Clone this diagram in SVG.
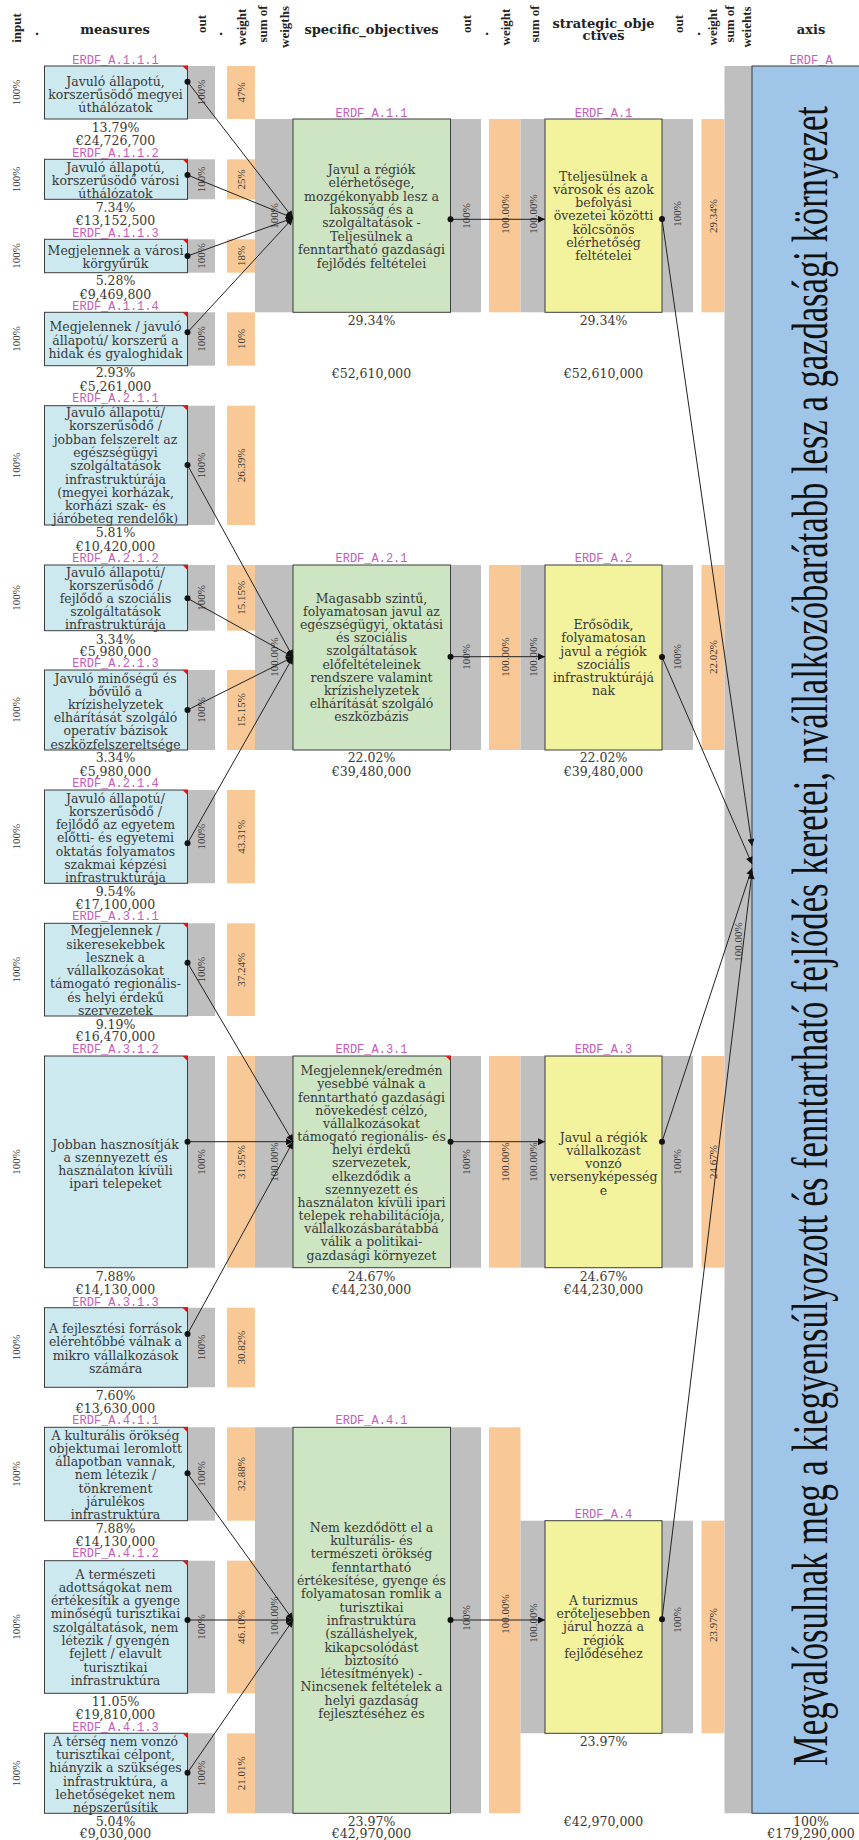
<svg xmlns="http://www.w3.org/2000/svg" width="859" height="1840" viewBox="0 0 859 1840">
<defs>
<style>
.bg{fill:#ffffff}
.m{fill:#cde9f0;stroke:#3c3c3c;stroke-width:1}
.sp{fill:#cde5c3;stroke:#3c3c3c;stroke-width:1}
.st{fill:#f3f29d;stroke:#3c3c3c;stroke-width:1}
.ax{fill:#9fc5e8;stroke:#3c3c3c;stroke-width:1}
.g{fill:#bfbfbf}
.o{fill:#f8c996}
.rc{fill:#e0181b}
text{font-family:"DejaVu Serif","Liberation Serif",serif;fill:#383838;text-anchor:middle;dominant-baseline:central}
.t{font-size:12.5px}
.id{font-family:"Liberation Mono","DejaVu Sans Mono",monospace;font-size:12px;fill:#c45cb8}
.r{font-family:"Liberation Serif","DejaVu Serif",serif;font-size:11px}
.h{font-size:13px;font-weight:bold;fill:#222}
.hr{font-family:"Liberation Serif","DejaVu Serif",serif;font-size:13px;font-weight:bold;fill:#222}
.big{font-family:"Liberation Serif","DejaVu Serif",serif;font-size:33px;fill:#111;dominant-baseline:alphabetic}
.c{stroke:#222;stroke-width:1;fill:none}
.dot{fill:#111}
</style>
<marker id="ah" viewBox="0 0 10 10" refX="10" refY="5" markerWidth="9" markerHeight="7" markerUnits="userSpaceOnUse" orient="auto"><path d="M0,0 L10,5 L0,10 z" fill="#111"/></marker>
</defs>
<rect class="bg" x="0" y="0" width="859" height="1840"/>

<g id="header">
<text class="hr" transform="translate(16,28) rotate(-90)">input</text>
<text class="h" x="37" y="30">.</text>
<text class="h" x="115" y="29">measures</text>
<text class="hr" transform="translate(201,24) rotate(-90)">out</text>
<text class="h" x="221" y="30">.</text>
<text class="hr" transform="translate(241,27) rotate(-90)">weight</text>
<text class="hr" transform="translate(262,24) rotate(-90)">sum of</text>
<text class="hr" transform="translate(284,27) rotate(-90)">weigths</text>
<text class="h" x="371.5" y="29">specific_objectives</text>
<text class="hr" transform="translate(466,24) rotate(-90)">out</text>
<text class="h" x="487" y="30">.</text>
<text class="hr" transform="translate(505,27) rotate(-90)">weight</text>
<text class="hr" transform="translate(534,24) rotate(-90)">sum of</text>
<text class="h" x="603.5" y="23">strategic_obje</text>
<text class="h" x="603.5" y="35">ctives</text>
<text class="hr" transform="translate(678,24) rotate(-90)">out</text>
<text class="h" x="699" y="30">.</text>
<text class="hr" transform="translate(712,27) rotate(-90)">weight</text>
<text class="hr" transform="translate(729,24) rotate(-90)">sum of</text>
<text class="hr" transform="translate(746,27) rotate(-90)">weiehts</text>
<text class="h" x="811" y="29">axis</text>
</g>

<g id="bars">
<rect class="g" x="187.5" y="66" width="27.5" height="53"/><rect class="o" x="227" y="66" width="28" height="53"/>
<rect class="g" x="187.5" y="159.3" width="27.5" height="40"/><rect class="o" x="227" y="159.3" width="28" height="40"/>
<rect class="g" x="187.5" y="239.3" width="27.5" height="33.4"/><rect class="o" x="227" y="239.3" width="28" height="33.4"/>
<rect class="g" x="187.5" y="312.3" width="27.5" height="53.4"/><rect class="o" x="227" y="312.3" width="28" height="53.4"/>
<rect class="g" x="187.5" y="405.7" width="27.5" height="119.3"/><rect class="o" x="227" y="405.7" width="28" height="119.3"/>
<rect class="g" x="187.5" y="565" width="27.5" height="65.7"/><rect class="o" x="227" y="565" width="28" height="65.7"/>
<rect class="g" x="187.5" y="670" width="27.5" height="80"/><rect class="o" x="227" y="670" width="28" height="80"/>
<rect class="g" x="187.5" y="790" width="27.5" height="93.3"/><rect class="o" x="227" y="790" width="28" height="93.3"/>
<rect class="g" x="187.5" y="923.3" width="27.5" height="92.7"/><rect class="o" x="227" y="923.3" width="28" height="92.7"/>
<rect class="g" x="187.5" y="1056" width="27.5" height="211.7"/><rect class="o" x="227" y="1056" width="28" height="211.7"/>
<rect class="g" x="187.5" y="1307.7" width="27.5" height="79.6"/><rect class="o" x="227" y="1307.7" width="28" height="79.6"/>
<rect class="g" x="187.5" y="1427.3" width="27.5" height="93.4"/><rect class="o" x="227" y="1427.3" width="28" height="93.4"/>
<rect class="g" x="187.5" y="1560.7" width="27.5" height="132.6"/><rect class="o" x="227" y="1560.7" width="28" height="132.6"/>
<rect class="g" x="187.5" y="1733.3" width="27.5" height="80"/><rect class="o" x="227" y="1733.3" width="28" height="80"/>
<rect class="g" x="255" y="119" width="38" height="193.3"/><rect class="g" x="450.5" y="119" width="30.5" height="193.3"/><rect class="o" x="489" y="119" width="31.5" height="193.3"/>
<rect class="g" x="255" y="565" width="38" height="185"/><rect class="g" x="450.5" y="565" width="30.5" height="185"/><rect class="o" x="489" y="565" width="31.5" height="185"/>
<rect class="g" x="255" y="1056" width="38" height="211.7"/><rect class="g" x="450.5" y="1056" width="30.5" height="211.7"/><rect class="o" x="489" y="1056" width="31.5" height="211.7"/>
<rect class="g" x="255" y="1427.3" width="38" height="386"/><rect class="g" x="450.5" y="1427.3" width="30.5" height="386"/><rect class="o" x="489" y="1427.3" width="31.5" height="386"/>
<rect class="g" x="520.5" y="119" width="24.5" height="193.3"/><rect class="g" x="662" y="119" width="31" height="193.3"/><rect class="o" x="701.5" y="119" width="23" height="193.3"/>
<rect class="g" x="520.5" y="565" width="24.5" height="185"/><rect class="g" x="662" y="565" width="31" height="185"/><rect class="o" x="701.5" y="565" width="23" height="185"/>
<rect class="g" x="520.5" y="1056" width="24.5" height="211.7"/><rect class="g" x="662" y="1056" width="31" height="211.7"/><rect class="o" x="701.5" y="1056" width="23" height="211.7"/>
<rect class="g" x="520.5" y="1520.7" width="24.5" height="212.6"/><rect class="g" x="662" y="1520.7" width="31" height="212.6"/><rect class="o" x="701.5" y="1520.7" width="23" height="212.6"/>
<rect class="g" x="724.5" y="66" width="27.5" height="1747.3"/>
</g>

<g id="bar-labels">
<text class="r" transform="translate(201,92.5) rotate(-90)">100%</text><text class="r" transform="translate(241,92.5) rotate(-90)">47%</text>
<text class="r" transform="translate(201,179.3) rotate(-90)">100%</text><text class="r" transform="translate(241,179.3) rotate(-90)">25%</text>
<text class="r" transform="translate(201,256) rotate(-90)">100%</text><text class="r" transform="translate(241,256) rotate(-90)">18%</text>
<text class="r" transform="translate(201,339) rotate(-90)">100%</text><text class="r" transform="translate(241,339) rotate(-90)">10%</text>
<text class="r" transform="translate(201,465.3) rotate(-90)">100%</text><text class="r" transform="translate(241,465.3) rotate(-90)">26.39%</text>
<text class="r" transform="translate(201,597.8) rotate(-90)">100%</text><text class="r" transform="translate(241,597.8) rotate(-90)">15.15%</text>
<text class="r" transform="translate(201,710) rotate(-90)">100%</text><text class="r" transform="translate(241,710) rotate(-90)">15.15%</text>
<text class="r" transform="translate(201,836.7) rotate(-90)">100%</text><text class="r" transform="translate(241,836.7) rotate(-90)">43.31%</text>
<text class="r" transform="translate(201,969.7) rotate(-90)">100%</text><text class="r" transform="translate(241,969.7) rotate(-90)">37.24%</text>
<text class="r" transform="translate(201,1162) rotate(-90)">100%</text><text class="r" transform="translate(241,1162) rotate(-90)">31.95%</text>
<text class="r" transform="translate(201,1347.5) rotate(-90)">100%</text><text class="r" transform="translate(241,1347.5) rotate(-90)">30.82%</text>
<text class="r" transform="translate(201,1474) rotate(-90)">100%</text><text class="r" transform="translate(241,1474) rotate(-90)">32.88%</text>
<text class="r" transform="translate(201,1627) rotate(-90)">100%</text><text class="r" transform="translate(241,1627) rotate(-90)">46.10%</text>
<text class="r" transform="translate(201,1773.3) rotate(-90)">100%</text><text class="r" transform="translate(241,1773.3) rotate(-90)">21.01%</text>
<text class="r" transform="translate(274,216) rotate(-90)">100%</text><text class="r" transform="translate(466,216) rotate(-90)">100%</text><text class="r" transform="translate(505,214) rotate(-90)">100.00%</text><text class="r" transform="translate(533,214) rotate(-90)">100.00%</text><text class="r" transform="translate(677,214) rotate(-90)">100%</text><text class="r" transform="translate(713,216) rotate(-90)">29.34%</text>
<text class="r" transform="translate(274,657) rotate(-90)">100.00%</text><text class="r" transform="translate(466,657) rotate(-90)">100%</text><text class="r" transform="translate(505,657) rotate(-90)">100.00%</text><text class="r" transform="translate(533,657) rotate(-90)">100.00%</text><text class="r" transform="translate(677,657) rotate(-90)">100%</text><text class="r" transform="translate(713,657) rotate(-90)">22.02%</text>
<text class="r" transform="translate(274,1162) rotate(-90)">100.00%</text><text class="r" transform="translate(466,1162) rotate(-90)">100%</text><text class="r" transform="translate(505,1162) rotate(-90)">100.00%</text><text class="r" transform="translate(533,1162) rotate(-90)">100.00%</text><text class="r" transform="translate(677,1162) rotate(-90)">100%</text><text class="r" transform="translate(713,1162) rotate(-90)">24.67%</text>
<text class="r" transform="translate(274,1616) rotate(-90)">100.00%</text><text class="r" transform="translate(466,1618) rotate(-90)">100%</text><text class="r" transform="translate(505,1614) rotate(-90)">100.00%</text><text class="r" transform="translate(533,1623) rotate(-90)">100.00%</text><text class="r" transform="translate(677,1620) rotate(-90)">100%</text><text class="r" transform="translate(713,1625) rotate(-90)">23.97%</text>
<text class="r" transform="translate(738,942) rotate(-90)">100.00%</text>
</g>

<g id="input-labels">
<text class="r" transform="translate(16,92.5) rotate(-90)">100%</text>
<text class="r" transform="translate(16,179.3) rotate(-90)">100%</text>
<text class="r" transform="translate(16,256) rotate(-90)">100%</text>
<text class="r" transform="translate(16,339) rotate(-90)">100%</text>
<text class="r" transform="translate(16,465.3) rotate(-90)">100%</text>
<text class="r" transform="translate(16,597.8) rotate(-90)">100%</text>
<text class="r" transform="translate(16,710) rotate(-90)">100%</text>
<text class="r" transform="translate(16,836.7) rotate(-90)">100%</text>
<text class="r" transform="translate(16,969.7) rotate(-90)">100%</text>
<text class="r" transform="translate(16,1162) rotate(-90)">100%</text>
<text class="r" transform="translate(16,1347.5) rotate(-90)">100%</text>
<text class="r" transform="translate(16,1474) rotate(-90)">100%</text>
<text class="r" transform="translate(16,1627) rotate(-90)">100%</text>
<text class="r" transform="translate(16,1773.3) rotate(-90)">100%</text>
</g>

<g id="m-A111">
<text class="id" x="115.5" y="61">ERDF_A.1.1.1</text>
<rect class="m" x="44.5" y="66" width="143" height="53"/><path class="rc" d="M182.5,66 H187.5 V71 z"/>
<text class="t" x="115.5" y="81">Javuló állapotú,</text>
<text class="t" x="115.5" y="94.3">korszerűsödő megyei</text>
<text class="t" x="115.5" y="107.6">úthálózatok</text>
<text class="t" x="115.5" y="127.7">13.79%</text>
<text class="t" x="115.5" y="140.5">€24,726,700</text>
</g>
<g id="m-A112">
<text class="id" x="115.5" y="154">ERDF_A.1.1.2</text>
<rect class="m" x="44.5" y="159.3" width="143" height="40"/><path class="rc" d="M182.5,159.3 H187.5 V164.3 z"/>
<text class="t" x="115.5" y="167">Javuló állapotú,</text>
<text class="t" x="115.5" y="180">korszerűsödő városi</text>
<text class="t" x="115.5" y="193">úthálózatok</text>
<text class="t" x="115.5" y="207.3">7.34%</text>
<text class="t" x="115.5" y="220.7">€13,152,500</text>
</g>
<g id="m-A113">
<text class="id" x="115.5" y="234">ERDF_A.1.1.3</text>
<rect class="m" x="44.5" y="239.3" width="143" height="33.4"/><path class="rc" d="M182.5,239.3 H187.5 V244.3 z"/>
<text class="t" x="115.5" y="250">Megjelennek a városi</text>
<text class="t" x="115.5" y="263.3">körgyűrűk</text>
<text class="t" x="115.5" y="280.3">5.28%</text>
<text class="t" x="115.5" y="294">€9,469,800</text>
</g>
<g id="m-A114">
<text class="id" x="115.5" y="306.7">ERDF_A.1.1.4</text>
<rect class="m" x="44.5" y="312.3" width="143" height="53.4"/><path class="rc" d="M182.5,312.3 H187.5 V317.3 z"/>
<text class="t" x="115.5" y="326.7">Megjelennek / javuló</text>
<text class="t" x="115.5" y="340">állapotú/ korszerű a</text>
<text class="t" x="115.5" y="353.3">hidak és gyaloghidak</text>
<text class="t" x="115.5" y="372.7">2.93%</text>
<text class="t" x="115.5" y="386.7">€5,261,000</text>
</g>
<g id="m-A211">
<text class="id" x="115.5" y="399.3">ERDF_A.2.1.1</text>
<rect class="m" x="44.5" y="405.7" width="143" height="119.3"/><path class="rc" d="M182.5,405.7 H187.5 V410.7 z"/>
<text class="t" x="115.5" y="412.5">Javuló állapotú/</text>
<text class="t" x="115.5" y="425.8">korszerűsödő /</text>
<text class="t" x="115.5" y="439.1">jobban felszerelt az</text>
<text class="t" x="115.5" y="452.4">egészségügyi</text>
<text class="t" x="115.5" y="465.7">szolgáltatások</text>
<text class="t" x="115.5" y="479">infrastruktúrája</text>
<text class="t" x="115.5" y="492.3">(megyei korházak,</text>
<text class="t" x="115.5" y="505.6">korházi szak- és</text>
<text class="t" x="115.5" y="518.9">járóbeteg rendelők)</text>
<text class="t" x="115.5" y="532.3">5.81%</text>
<text class="t" x="115.5" y="546.7">€10,420,000</text>
</g>
<g id="m-A212">
<text class="id" x="115.5" y="559">ERDF_A.2.1.2</text>
<rect class="m" x="44.5" y="565" width="143" height="65.7"/><path class="rc" d="M182.5,565 H187.5 V570 z"/>
<text class="t" x="115.5" y="572">Javuló állapotú/</text>
<text class="t" x="115.5" y="585">korszerűsödő /</text>
<text class="t" x="115.5" y="598.3">fejlődő a szociális</text>
<text class="t" x="115.5" y="611.3">szolgáltatások</text>
<text class="t" x="115.5" y="624.5">infrastruktúrája</text>
<text class="t" x="115.5" y="639.3">3.34%</text>
<text class="t" x="115.5" y="651.7">€5,980,000</text>
</g>
<g id="m-A213">
<text class="id" x="115.5" y="664">ERDF_A.2.1.3</text>
<rect class="m" x="44.5" y="670" width="143" height="80"/><path class="rc" d="M182.5,670 H187.5 V675 z"/>
<text class="t" x="115.5" y="678">Javuló minőségű és</text>
<text class="t" x="115.5" y="691.2">bővülő a</text>
<text class="t" x="115.5" y="704.4">krízishelyzetek</text>
<text class="t" x="115.5" y="717.6">elhárítását szolgáló</text>
<text class="t" x="115.5" y="730.8">operatív bázisok</text>
<text class="t" x="115.5" y="744">eszközfelszereltsége</text>
<text class="t" x="115.5" y="757.3">3.34%</text>
<text class="t" x="115.5" y="771.7">€5,980,000</text>
</g>
<g id="m-A214">
<text class="id" x="115.5" y="784">ERDF_A.2.1.4</text>
<rect class="m" x="44.5" y="790" width="143" height="93.3"/><path class="rc" d="M182.5,790 H187.5 V795 z"/>
<text class="t" x="115.5" y="798.3">Javuló állapotú/</text>
<text class="t" x="115.5" y="811.5">korszerűsödő /</text>
<text class="t" x="115.5" y="824.7">fejlődő az egyetem</text>
<text class="t" x="115.5" y="837.9">előtti- és egyetemi</text>
<text class="t" x="115.5" y="851.1">oktatás folyamatos</text>
<text class="t" x="115.5" y="864.3">szakmai képzési</text>
<text class="t" x="115.5" y="877.5">infrastruktúrája</text>
<text class="t" x="115.5" y="891.7">9.54%</text>
<text class="t" x="115.5" y="904">€17,100,000</text>
</g>
<g id="m-A311">
<text class="id" x="115.5" y="917.3">ERDF_A.3.1.1</text>
<rect class="m" x="44.5" y="923.3" width="143" height="92.7"/><path class="rc" d="M182.5,923.3 H187.5 V928.3 z"/>
<text class="t" x="115.5" y="930.7">Megjelennek /</text>
<text class="t" x="115.5" y="944">sikeresekebbek</text>
<text class="t" x="115.5" y="957.3">lesznek a</text>
<text class="t" x="115.5" y="970.6">vállalkozásokat</text>
<text class="t" x="115.5" y="983.9">támogató regionális-</text>
<text class="t" x="115.5" y="997.2">és helyi érdekű</text>
<text class="t" x="115.5" y="1010.5">szervezetek</text>
<text class="t" x="115.5" y="1024.3">9.19%</text>
<text class="t" x="115.5" y="1036.7">€16,470,000</text>
</g>
<g id="m-A312">
<text class="id" x="115.5" y="1050">ERDF_A.3.1.2</text>
<rect class="m" x="44.5" y="1056" width="143" height="211.7"/><path class="rc" d="M182.5,1056 H187.5 V1061 z"/>
<text class="t" x="115.5" y="1144">Jobban hasznosítják</text>
<text class="t" x="115.5" y="1157.3">a szennyezett és</text>
<text class="t" x="115.5" y="1170.6">használaton kívüli</text>
<text class="t" x="115.5" y="1183.9">ipari telepeket</text>
<text class="t" x="115.5" y="1276">7.88%</text>
<text class="t" x="115.5" y="1289">€14,130,000</text>
</g>
<g id="m-A313">
<text class="id" x="115.5" y="1302.7">ERDF_A.3.1.3</text>
<rect class="m" x="44.5" y="1307.7" width="143" height="79.6"/><path class="rc" d="M182.5,1307.7 H187.5 V1312.7 z"/>
<text class="t" x="115.5" y="1328.5">A fejlesztési források</text>
<text class="t" x="115.5" y="1341.8">elérehtőbbé válnak a</text>
<text class="t" x="115.5" y="1355.1">mikro vállalkozások</text>
<text class="t" x="115.5" y="1368.4">számára</text>
<text class="t" x="115.5" y="1395">7.60%</text>
<text class="t" x="115.5" y="1408.3">€13,630,000</text>
</g>
<g id="m-A411">
<text class="id" x="115.5" y="1421">ERDF_A.4.1.1</text>
<rect class="m" x="44.5" y="1427.3" width="143" height="93.4"/><path class="rc" d="M182.5,1427.3 H187.5 V1432.3 z"/>
<text class="t" x="115.5" y="1435">A kulturális örökség</text>
<text class="t" x="115.5" y="1448.3">objektumai leromlott</text>
<text class="t" x="115.5" y="1461.6">állapotban vannak,</text>
<text class="t" x="115.5" y="1474.9">nem létezik /</text>
<text class="t" x="115.5" y="1488.2">tönkrement</text>
<text class="t" x="115.5" y="1501.5">járulékos</text>
<text class="t" x="115.5" y="1514.8">infrastruktúra</text>
<text class="t" x="115.5" y="1528.3">7.88%</text>
<text class="t" x="115.5" y="1541.7">€14,130,000</text>
</g>
<g id="m-A412">
<text class="id" x="115.5" y="1554">ERDF_A.4.1.2</text>
<rect class="m" x="44.5" y="1560.7" width="143" height="132.6"/><path class="rc" d="M182.5,1560.7 H187.5 V1565.7 z"/>
<text class="t" x="115.5" y="1574">A természeti</text>
<text class="t" x="115.5" y="1587.3">adottságokat nem</text>
<text class="t" x="115.5" y="1600.6">értékesítik a gyenge</text>
<text class="t" x="115.5" y="1613.9">minőségű turisztikai</text>
<text class="t" x="115.5" y="1627.2">szolgáltatások, nem</text>
<text class="t" x="115.5" y="1640.5">létezik / gyengén</text>
<text class="t" x="115.5" y="1653.8">fejlett / elavult</text>
<text class="t" x="115.5" y="1667.1">turisztikai</text>
<text class="t" x="115.5" y="1680.4">infrastruktúra</text>
<text class="t" x="115.5" y="1701.7">11.05%</text>
<text class="t" x="115.5" y="1714">€19,810,000</text>
</g>
<g id="m-A413">
<text class="id" x="115.5" y="1728.3">ERDF_A.4.1.3</text>
<rect class="m" x="44.5" y="1733.3" width="143" height="80"/><path class="rc" d="M182.5,1733.3 H187.5 V1738.3 z"/>
<text class="t" x="115.5" y="1741.5">A térség nem vonzó</text>
<text class="t" x="115.5" y="1754.7">turisztikai célpont,</text>
<text class="t" x="115.5" y="1767.9">hiányzik a szükséges</text>
<text class="t" x="115.5" y="1781.1">infrastruktúra, a</text>
<text class="t" x="115.5" y="1794.3">lehetőségeket nem</text>
<text class="t" x="115.5" y="1807.5">népszerűsítik</text>
<text class="t" x="115.5" y="1821">5.04%</text>
<text class="t" x="115.5" y="1833.3">€9,030,000</text>
</g>

<g id="so-A11">
<text class="id" x="371.5" y="114">ERDF_A.1.1</text>
<rect class="sp" x="293" y="119" width="157.5" height="193.3"/>
<text class="t" x="371.5" y="169.5">Javul a régiók</text>
<text class="t" x="371.5" y="182.8">elérhetősége,</text>
<text class="t" x="371.5" y="196.1">mozgékonyabb lesz a</text>
<text class="t" x="371.5" y="209.4">lakosság és a</text>
<text class="t" x="371.5" y="222.7">szolgáltatások -</text>
<text class="t" x="371.5" y="236.5">Teljesülnek a</text>
<text class="t" x="371.5" y="249.8">fenntartható gazdasági</text>
<text class="t" x="371.5" y="263.1">fejlődés feltételei</text>
<text class="t" x="371.5" y="320.7">29.34%</text>
<text class="t" x="371.5" y="373.3">€52,610,000</text>
</g>
<g id="so-A21">
<text class="id" x="371.5" y="559">ERDF_A.2.1</text>
<rect class="sp" x="293" y="565" width="157.5" height="185"/>
<text class="t" x="371.5" y="598.3">Magasabb szintű,</text>
<text class="t" x="371.5" y="611.5">folyamatosan javul az</text>
<text class="t" x="371.5" y="624.6">egészségügyi, oktatási</text>
<text class="t" x="371.5" y="637.8">és szociális</text>
<text class="t" x="371.5" y="650.9">szolgáltatások</text>
<text class="t" x="371.5" y="664.1">előfeltételeinek</text>
<text class="t" x="371.5" y="677.2">rendszere valamint</text>
<text class="t" x="371.5" y="690.4">krízishelyzetek</text>
<text class="t" x="371.5" y="703.5">elhárítását szolgáló</text>
<text class="t" x="371.5" y="716.7">eszközbázis</text>
<text class="t" x="371.5" y="757.3">22.02%</text>
<text class="t" x="371.5" y="771.7">€39,480,000</text>
</g>
<g id="so-A31">
<text class="id" x="371.5" y="1050">ERDF_A.3.1</text>
<rect class="sp" x="293" y="1056" width="157.5" height="211.7"/><path class="rc" d="M445.5,1056 H450.5 V1061 z"/>
<text class="t" x="371.5" y="1070.7">Megjelennek/eredmén</text>
<text class="t" x="371.5" y="1083.9">yesebbé válnak a</text>
<text class="t" x="371.5" y="1097">fenntartható gazdasági</text>
<text class="t" x="371.5" y="1110.2">növekedést célzó,</text>
<text class="t" x="371.5" y="1123.4">vállalkozásokat</text>
<text class="t" x="371.5" y="1136.5">támogató regionális- és</text>
<text class="t" x="371.5" y="1149.7">helyi érdekű</text>
<text class="t" x="371.5" y="1162.9">szervezetek,</text>
<text class="t" x="371.5" y="1176">elkezdődik a</text>
<text class="t" x="371.5" y="1189.2">szennyezett és</text>
<text class="t" x="371.5" y="1202.4">használaton kívüli ipari</text>
<text class="t" x="371.5" y="1215.5">telepek rehabilitációja,</text>
<text class="t" x="371.5" y="1228.7">vállalkozásbarátabbá</text>
<text class="t" x="371.5" y="1241.9">válik  a politikai-</text>
<text class="t" x="371.5" y="1255">gazdasági környezet</text>
<text class="t" x="371.5" y="1276">24.67%</text>
<text class="t" x="371.5" y="1289">€44,230,000</text>
</g>
<g id="so-A41">
<text class="id" x="371.5" y="1421">ERDF_A.4.1</text>
<rect class="sp" x="293" y="1427.3" width="157.5" height="386"/>
<text class="t" x="371.5" y="1527.3">Nem kezdődött el a</text>
<text class="t" x="371.5" y="1540.6">kulturális- és</text>
<text class="t" x="371.5" y="1553.9">természeti örökség</text>
<text class="t" x="371.5" y="1567.2">fenntartható</text>
<text class="t" x="371.5" y="1580.5">értékesítése, gyenge és</text>
<text class="t" x="371.5" y="1593.8">folyamatosan romlik a</text>
<text class="t" x="371.5" y="1607.1">turisztikai</text>
<text class="t" x="371.5" y="1620.4">infrastruktúra</text>
<text class="t" x="371.5" y="1633.7">(szálláshelyek,</text>
<text class="t" x="371.5" y="1647">kikapcsolódást</text>
<text class="t" x="371.5" y="1660.3">biztosító</text>
<text class="t" x="371.5" y="1673.6">létesítmények)  -</text>
<text class="t" x="371.5" y="1686.9">Nincsenek feltételek a</text>
<text class="t" x="371.5" y="1700.2">helyi gazdaság</text>
<text class="t" x="371.5" y="1713.5">fejlesztéséhez és</text>
<text class="t" x="371.5" y="1821">23.97%</text>
<text class="t" x="371.5" y="1833.3">€42,970,000</text>
</g>

<g id="st-A1">
<text class="id" x="603.5" y="114">ERDF_A.1</text>
<rect class="st" x="545" y="119" width="117" height="193.3"/>
<text class="t" x="603.5" y="176">Tteljesülnek a</text>
<text class="t" x="603.5" y="189.3">városok és azok</text>
<text class="t" x="603.5" y="202.6">befolyási</text>
<text class="t" x="603.5" y="215.9">övezetei közötti</text>
<text class="t" x="603.5" y="229.2">kölcsönös</text>
<text class="t" x="603.5" y="242.5">elérhetőség</text>
<text class="t" x="603.5" y="255.8">feltételei</text>
<text class="t" x="603.5" y="320.7">29.34%</text>
<text class="t" x="603.5" y="373.3">€52,610,000</text>
</g>
<g id="st-A2">
<text class="id" x="603.5" y="559">ERDF_A.2</text>
<rect class="st" x="545" y="565" width="117" height="185"/>
<text class="t" x="603.5" y="624.7">Erősödik,</text>
<text class="t" x="603.5" y="637.9">folyamatosan</text>
<text class="t" x="603.5" y="651.1">javul a régiók</text>
<text class="t" x="603.5" y="664.3">szociális</text>
<text class="t" x="603.5" y="677.5">infrastruktúrájá</text>
<text class="t" x="603.5" y="690.7">nak</text>
<text class="t" x="603.5" y="757.3">22.02%</text>
<text class="t" x="603.5" y="771.7">€39,480,000</text>
</g>
<g id="st-A3">
<text class="id" x="603.5" y="1050">ERDF_A.3</text>
<rect class="st" x="545" y="1056" width="117" height="211.7"/>
<text class="t" x="603.5" y="1137.3">Javul a régiók</text>
<text class="t" x="603.5" y="1150.5">vállalkozást</text>
<text class="t" x="603.5" y="1163.7">vonzó</text>
<text class="t" x="603.5" y="1176.9">versenyképesség</text>
<text class="t" x="603.5" y="1190.1">e</text>
<text class="t" x="603.5" y="1276">24.67%</text>
<text class="t" x="603.5" y="1289">€44,230,000</text>
</g>
<g id="st-A4">
<text class="id" x="603.5" y="1515">ERDF_A.4</text>
<rect class="st" x="545" y="1520.7" width="117" height="212.6"/>
<text class="t" x="603.5" y="1600">A turizmus</text>
<text class="t" x="603.5" y="1613.4">erőteljesebben</text>
<text class="t" x="603.5" y="1626.8">járul hozzá a</text>
<text class="t" x="603.5" y="1640.2">régiók</text>
<text class="t" x="603.5" y="1653.6">fejlődéséhez</text>
<text class="t" x="603.5" y="1741.7">23.97%</text>
<text class="t" x="603.5" y="1821">€42,970,000</text>
</g>

<g id="axis-A">
<text class="id" x="811" y="61">ERDF_A</text>
<rect class="ax" x="752" y="66" width="118" height="1747.3"/>
<text class="big" transform="translate(827,936) rotate(-90) scale(1,1.52)" x="0" y="0" textLength="1660" lengthAdjust="spacingAndGlyphs">Megvalósulnak meg a kiegyensúlyozott és fenntartható fejlődés keretei, nvállalkozóbarátabb lesz a gazdasági környezet</text>
<text class="t" x="811" y="1821">100%</text>
<text class="t" x="811" y="1833.3">€179,290,000</text>
</g>

<g id="connectors">
<path class="c" marker-end="url(#ah)" d="M187.5,81.7 L293,218"/>
<path class="c" marker-end="url(#ah)" d="M187.5,175 L293,218"/>
<path class="c" marker-end="url(#ah)" d="M187.5,256 L293,218"/>
<path class="c" marker-end="url(#ah)" d="M187.5,332.3 L293,218"/>
<path class="c" marker-end="url(#ah)" d="M187.5,465 L293,657"/>
<path class="c" marker-end="url(#ah)" d="M187.5,598.3 L293,657"/>
<path class="c" marker-end="url(#ah)" d="M187.5,710 L293,657"/>
<path class="c" marker-end="url(#ah)" d="M187.5,843.3 L293,657"/>
<path class="c" marker-end="url(#ah)" d="M187.5,962.7 L293,1141.7"/>
<path class="c" marker-end="url(#ah)" d="M187.5,1141.7 L293,1141.7"/>
<path class="c" marker-end="url(#ah)" d="M187.5,1334 L293,1141.7"/>
<path class="c" marker-end="url(#ah)" d="M187.5,1473.3 L293,1620"/>
<path class="c" marker-end="url(#ah)" d="M187.5,1620 L293,1620"/>
<path class="c" marker-end="url(#ah)" d="M187.5,1772.7 L293,1620"/>
<path class="c" marker-end="url(#ah)" d="M450.5,219.3 L545,219.3"/>
<path class="c" marker-end="url(#ah)" d="M450.5,656.7 L545,656.7"/>
<path class="c" marker-end="url(#ah)" d="M450.5,1141.7 L545,1141.7"/>
<path class="c" marker-end="url(#ah)" d="M450.5,1620 L545,1620"/>
<path class="c" marker-end="url(#ah)" d="M662,219 L752,846"/>
<path class="c" marker-end="url(#ah)" d="M662,657 L752,864"/>
<path class="c" marker-end="url(#ah)" d="M662,1141.7 L752,868"/>
<path class="c" marker-end="url(#ah)" d="M662,1619.3 L752,872"/>
<g class="dot">
<circle cx="187.5" cy="81.7" r="3"/><circle cx="187.5" cy="175" r="3"/><circle cx="187.5" cy="256" r="3"/><circle cx="187.5" cy="332.3" r="3"/>
<circle cx="187.5" cy="465" r="3"/><circle cx="187.5" cy="598.3" r="3"/><circle cx="187.5" cy="710" r="3"/><circle cx="187.5" cy="843.3" r="3"/>
<circle cx="187.5" cy="962.7" r="3"/><circle cx="187.5" cy="1141.7" r="3"/><circle cx="187.5" cy="1334" r="3"/>
<circle cx="187.5" cy="1473.3" r="3"/><circle cx="187.5" cy="1620" r="3"/><circle cx="187.5" cy="1772.7" r="3"/>
<circle cx="450.5" cy="219.3" r="3"/><circle cx="450.5" cy="656.7" r="3"/><circle cx="450.5" cy="1141.7" r="3"/><circle cx="450.5" cy="1620" r="3"/>
<circle cx="662" cy="219" r="3"/><circle cx="662" cy="657" r="3"/><circle cx="662" cy="1141.7" r="3"/><circle cx="662" cy="1619.3" r="3"/>
</g>
</g>
</svg>
